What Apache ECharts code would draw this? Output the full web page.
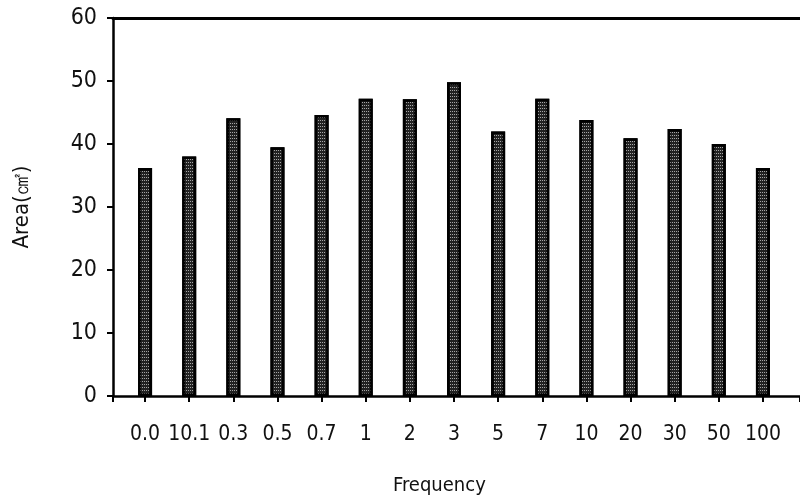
<!DOCTYPE html>
<html><head><meta charset="utf-8">
<script src="https://cdn.jsdelivr.net/npm/echarts@6/dist/echarts.min.js"></script>
<style>html,body{margin:0;padding:0;background:#fff}#c{width:800px;height:502px}</style>
</head><body><div id="c"></div>
<script>
const categories = ['0.0','10.1','0.3','0.5','0.7','1','2','3','5','7','10','20','30','50','100'];
const areaValues = [36.2, 38.0, 44.1, 39.5, 44.6, 47.2, 47.1, 49.8, 42.0, 47.2, 43.8, 40.9, 42.4, 40.0, 36.2];
const yTicks = [0, 10, 20, 30, 40, 50, 60];
const yAxisName = 'Area(㎠)';
const xAxisName = 'Frequency';

const FONT = '"DejaVu Sans Condensed", "Liberation Sans Narrow", sans-serif';
const chart = echarts.init(document.getElementById('c'), null, {renderer:'canvas'});
chart.setOption({
  animation: false,
  backgroundColor: '#fff',
  title: {text: xAxisName, left: 388, top: 471,
    textStyle: {fontFamily: FONT, fontSize: 20, fontWeight: 'normal', color: '#111'}},
  grid: [
    {left: 123, right: 15, top: 18, bottom: 106, outerBoundsMode: 'none', containLabel: false},
    {left: 113, right: 0, top: 18, bottom: 106, outerBoundsMode: 'none', containLabel: false}
  ],
  xAxis: [
    {gridIndex: 0, type: 'category', data: categories,
      axisLine: {show: false},
      axisTick: {show: true, alignWithLabel: true, interval: 0, length: 6, lineStyle: {color: '#000', width: 2}},
      axisLabel: {interval: 0, fontFamily: FONT, fontSize: 21, color: '#111', margin: 28}},
    {gridIndex: 1, type: 'value', min: 0, max: 1, interval: 1, position: 'bottom',
      axisLine: {show: true, lineStyle: {color: '#000', width: 2.5}},
      axisTick: {show: true, length: 6, lineStyle: {color: '#000', width: 2}},
      axisLabel: {show: false}, splitLine: {show: false}},
    {gridIndex: 1, type: 'value', min: 0, max: 1, position: 'top',
      axisLine: {show: true, lineStyle: {color: '#000', width: 3}},
      axisTick: {show: false}, axisLabel: {show: false}, splitLine: {show: false}}
  ],
  yAxis: [
    {gridIndex: 0, type: 'value', min: yTicks[0], max: yTicks[yTicks.length-1], interval: 10, show: false},
    {gridIndex: 1, type: 'value', min: yTicks[0], max: yTicks[yTicks.length-1], interval: 10,
      name: yAxisName, nameLocation: 'middle', nameRotate: 90, nameGap: 80,
      nameTextStyle: {fontFamily: FONT, fontSize: 22, color: '#111'},
      axisLine: {show: true, lineStyle: {color: '#000', width: 2.5}},
      axisTick: {show: true, length: 6, lineStyle: {color: '#000', width: 2}},
      axisLabel: {fontFamily: FONT, fontSize: 23, color: '#111', margin: 16},
      splitLine: {show: false}}
  ],
  series: [{
    type: 'bar', xAxisIndex: 0, yAxisIndex: 0, data: areaValues, barWidth: 14,
    itemStyle: {color: '#222', borderColor: '#000', borderWidth: 2.5,
      decal: {symbol: 'rect', symbolSize: 1, color: 'rgba(255,255,255,0.6)',
        dashArrayX: [1, 1], dashArrayY: [1, 2], rotation: 0}}
  }]
});
</script></body></html>
